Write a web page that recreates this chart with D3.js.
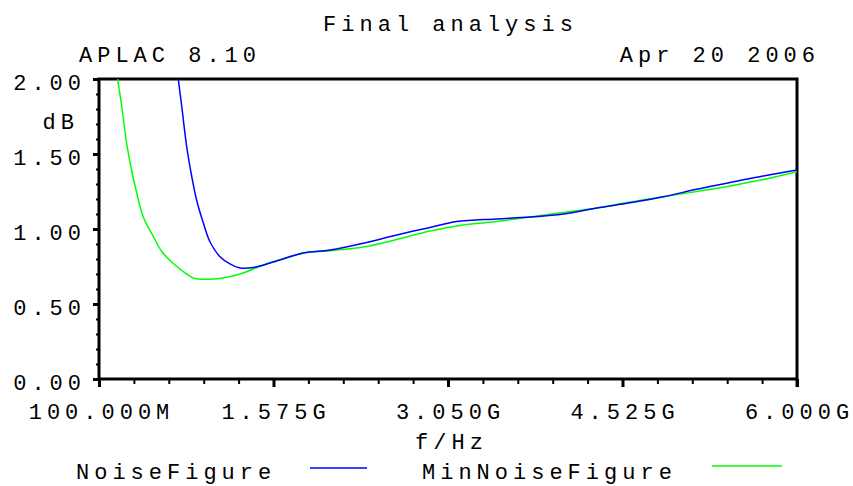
<!DOCTYPE html>
<html>
<head>
<meta charset="utf-8">
<script src="https://cdn.jsdelivr.net/npm/d3@7"></script>
<style>
  body { margin: 0; background: #fff; }
  svg text { font-family: "Liberation Mono", "DejaVu Sans Mono", monospace; font-size: 22px; letter-spacing: 5px; fill: #000; }
  .axis path { display: none; }
  .axis text { display: none; }
</style>
</head>
<body>
<svg width="853" height="486"></svg>
<script>
// frequency in GHz, noise figure in dB
var freqNF = [0.742, 0.770, 0.799, 0.841, 0.884, 0.926, 0.982, 1.038, 1.123, 1.207, 1.292, 1.419, 1.573,
              1.827, 2.053, 2.334, 2.616, 2.898, 3.124, 3.462, 3.743, 4.025, 4.307, 4.589, 4.870, 5.152,
              5.434, 5.715, 6.000];
var noiseFigure = [2.20, 2.00, 1.82, 1.55, 1.35, 1.19, 1.04, 0.915, 0.815, 0.767, 0.74, 0.745, 0.78,
                   0.84, 0.86, 0.905, 0.96, 1.01, 1.05, 1.067, 1.08, 1.10, 1.14, 1.175, 1.215, 1.265,
                   1.31, 1.353, 1.393];

var freqMin = [0.225, 0.258, 0.292, 0.334, 0.376, 0.419, 0.474, 0.559, 0.630, 0.728, 0.841, 0.911, 1.010,
               1.123, 1.292, 1.489, 1.715, 1.827, 2.053, 2.334, 2.616, 2.898, 3.179, 3.462, 3.743, 4.025,
               4.307, 4.589, 4.870, 5.152, 5.434, 5.715, 6.000];
var minNoiseFigure = [2.25, 2.00, 1.82, 1.57, 1.39, 1.24, 1.08, 0.95, 0.85, 0.77, 0.70, 0.67, 0.665,
                      0.67, 0.70, 0.76, 0.815, 0.84, 0.855, 0.88, 0.93, 0.987, 1.027, 1.05, 1.08, 1.11,
                      1.14, 1.18, 1.215, 1.25, 1.287, 1.33, 1.382];

var xTickValues = [0.1, 1.575, 3.05, 4.525, 6.0];
var xTickLabels = ["100.000M", "1.575G", "3.050G", "4.525G", "6.000G"];
var yTickValues = [0, 0.5, 1.0, 1.5, 2.0];
var yTickLabels = ["0.00", "0.50", "1.00", "1.50", "2.00"];

var svg = d3.select("svg");
var ls = 5; // letter spacing, used to correct anchors

var x = d3.scaleLinear().domain([0.1, 6.0]).range([99, 797]);
var y = d3.scaleLinear().domain([0, 2]).range([379, 79]);

// minor ticks
var xMinor = d3.range(0, 21).map(function(i) { return 0.1 + i * 0.295; });
var yMinor = d3.range(0, 21).map(function(i) { return i * 0.1; });

svg.append("g").attr("class", "axis")
    .attr("transform", "translate(0,379)")
    .call(d3.axisBottom(x).tickValues(xMinor).tickSize(5))
    .selectAll("line").attr("stroke", "#000").attr("stroke-width", 2);

svg.append("g").attr("class", "axis")
    .attr("transform", "translate(0,379)")
    .call(d3.axisBottom(x).tickValues(xTickValues).tickSize(8))
    .selectAll("line").attr("stroke", "#000").attr("stroke-width", 3);

svg.append("g").attr("class", "axis")
    .attr("transform", "translate(99,0)")
    .call(d3.axisLeft(y).tickValues(yMinor).tickSize(3))
    .selectAll("line").attr("stroke", "#000").attr("stroke-width", 2);

svg.append("g").attr("class", "axis")
    .attr("transform", "translate(99,0)")
    .call(d3.axisLeft(y).tickValues(yTickValues).tickSize(6))
    .selectAll("line").attr("stroke", "#000").attr("stroke-width", 3);

// frame
svg.append("rect")
    .attr("x", 99).attr("y", 79)
    .attr("width", 698).attr("height", 300)
    .attr("fill", "none").attr("stroke", "#000").attr("stroke-width", 3);

// right axis extends below the frame like a tick
svg.append("line")
    .attr("x1", 797).attr("x2", 797).attr("y1", 379).attr("y2", 387)
    .attr("stroke", "#000").attr("stroke-width", 3);

// tick labels
svg.append("g").selectAll("text")
    .data(xTickValues)
    .enter().append("text")
    .attr("x", function(d) { return x(d) + ls / 2; })
    .attr("y", 419)
    .attr("text-anchor", "middle")
    .text(function(d, i) { return xTickLabels[i]; });

svg.append("g").selectAll("text")
    .data(yTickValues)
    .enter().append("text")
    .attr("x", 81 + ls)
    .attr("y", function(d) { return y(d) + 11; })
    .attr("text-anchor", "end")
    .text(function(d, i) { return yTickLabels[i]; });

// clip the curves to the plot box
svg.append("clipPath").attr("id", "plotclip")
    .append("rect").attr("x", 99).attr("y", 79).attr("width", 698).attr("height", 300);

var line = d3.line()
    .x(function(d) { return x(d[0]); })
    .y(function(d) { return y(d[1]); })
    .curve(d3.curveCatmullRom.alpha(0.5));

var nfData = freqNF.map(function(f, i) { return [f, noiseFigure[i]]; });
var minData = freqMin.map(function(f, i) { return [f, minNoiseFigure[i]]; });

var curves = svg.append("g").attr("clip-path", "url(#plotclip)");

curves.append("path")
    .datum(minData)
    .attr("d", line)
    .attr("fill", "none")
    .attr("stroke", "#00ff00")
    .attr("stroke-width", 1.5);

curves.append("path")
    .datum(nfData)
    .attr("d", line)
    .attr("fill", "none")
    .attr("stroke", "#0000ff")
    .attr("stroke-width", 1.5);

// titles
svg.append("text").attr("x", 448 + ls / 2).attr("y", 31).attr("text-anchor", "middle").text("Final analysis");
svg.append("text").attr("x", 79).attr("y", 62).text("APLAC 8.10");
svg.append("text").attr("x", 815 + ls).attr("y", 62).attr("text-anchor", "end").text("Apr 20 2006");
svg.append("text").attr("x", 74 + ls).attr("y", 129).attr("text-anchor", "end").text("dB");
svg.append("text").attr("x", 449 + ls / 2).attr("y", 449).attr("text-anchor", "middle").text("f/Hz");

// legend
svg.append("text").attr("x", 76).attr("y", 479).text("NoiseFigure");
svg.append("line").attr("x1", 310).attr("x2", 367).attr("y1", 468).attr("y2", 468)
    .attr("stroke", "#0000ff").attr("stroke-width", 1.5);
svg.append("text").attr("x", 422).attr("y", 479).text("MinNoiseFigure");
svg.append("line").attr("x1", 712).attr("x2", 782).attr("y1", 466).attr("y2", 466)
    .attr("stroke", "#00ff00").attr("stroke-width", 1.5);
</script>
</body>
</html>
